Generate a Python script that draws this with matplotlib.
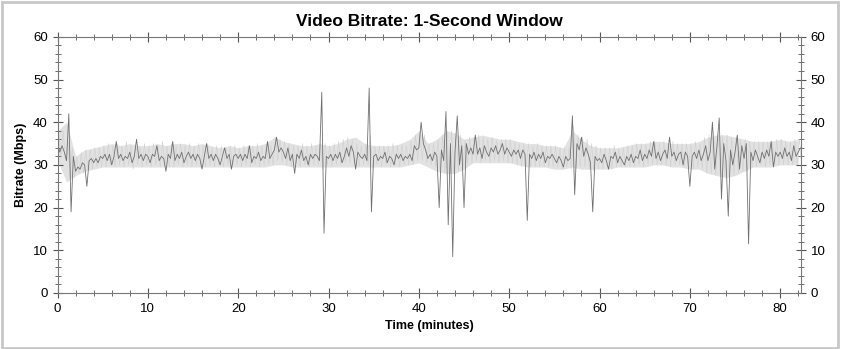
import numpy as np
import matplotlib
matplotlib.use('Agg')
import matplotlib.pyplot as plt
from matplotlib.ticker import MultipleLocator
from matplotlib.patches import Rectangle

plt.rcParams['font.family'] = ['Liberation Sans', 'DejaVu Sans']

# 1-second window bitrate (Mbps), read every 0.25 minute
bitrate = [
    35, 33, 34.5, 33, 31, 42, 19, 32, 28.5, 29.5, 29, 30.5, 30, 25, 31, 31.5, 30.5, 31.5, 30.5, 32,
    31.5, 32.5, 31, 32.5, 30, 32, 35.5, 31.5, 32.5, 31, 32, 31.5, 33, 30.5, 32, 36, 31.5, 32.5, 31, 32.5,
    32, 30.5, 32.5, 32, 34.5, 31, 32, 31.5, 28.5, 32.5, 31.5, 35.5, 31, 32.5, 31.5, 33, 30.5, 32, 33, 31.5,
    32.5, 31, 32.5, 31.5, 29, 32, 35, 31.5, 32.5, 31, 32.5, 31.5, 30, 32, 34, 31.5, 32.5, 29, 32, 32.5,
    31.5, 32.5, 31, 32.5, 31.5, 34.5, 30.5, 32, 31.5, 33, 31, 32, 31.5, 35.5, 31.5, 32.5, 33.5, 36.5, 33, 34,
    33, 31.5, 34, 31, 32.5, 28, 32.5, 31.5, 33.5, 31, 32, 30, 32.5, 31.5, 32.5, 32, 31, 47, 14, 32,
    31.5, 32.5, 31, 32.5, 31.5, 33, 30.5, 32, 34, 32, 34.5, 33, 29, 33, 32, 31.5, 32.5, 31, 48, 19,
    32, 32.5, 31, 32, 31.5, 33, 30.5, 32, 31.5, 30, 32.5, 31.5, 32.5, 31, 32, 31.5, 32.5, 31, 34.5, 33.5,
    34, 40, 35, 33.5, 31.5, 32.5, 31, 33, 32, 20, 33.5, 31, 42.5, 16, 35, 8.5, 33, 41.5, 30, 34.5,
    20, 35, 32.5, 34, 32.5, 37, 32.5, 34, 31.5, 34.5, 33, 32, 34, 33, 34.5, 32.5, 33.5, 35, 32.5, 34,
    33, 32, 33.5, 32.5, 33.5, 31.5, 33.5, 32.5, 17, 32.5, 31.5, 33, 31, 32.5, 31.5, 33, 30.5, 32, 31.5, 32.5,
    31.5, 30.5, 32, 31, 29.5, 32, 31, 31.5, 41.5, 23, 35, 33.5, 36.5, 32, 34, 32.5, 30.5, 19, 32, 31,
    31.5, 30.5, 32.5, 31, 29, 32, 31.5, 33, 30.5, 32, 31, 30, 32, 31, 32.5, 30.5, 32, 31.5, 33.5, 31,
    32.5, 31.5, 33.5, 32, 35.5, 31.5, 33, 31, 32.5, 33.5, 31.5, 36.5, 32, 33, 31, 32.5, 33, 30, 33, 32,
    25, 32, 33, 31.5, 33.5, 31, 32.5, 34.5, 31, 33, 40, 29, 34.5, 41, 22, 35, 31, 18, 33.5, 30,
    33, 37, 29, 34.5, 31.5, 35, 11.5, 33, 31, 33.5, 32, 30.5, 33, 31.5, 33.5, 32, 35.5, 29.5, 33, 32,
    33, 31.5, 34, 32, 33, 31, 34.5, 32, 33, 34,
]
minutes = np.arange(len(bitrate)) * 0.25

# light grey raw samples, read between the dark points
raw = [
    37, 32, 38, 31, 36, 27, 34, 27, 32, 28, 33, 28, 33.5, 29, 33.5, 29, 34, 29.5, 34, 29.5,
    34.5, 29.5, 35, 30, 34.5, 29.5, 35, 30, 34.5, 29.5, 35.5, 30, 34.5, 29, 35, 30, 34.5, 29.5, 35, 30,
    34.5, 29.5, 35, 30, 34.5, 29.5, 35.5, 30, 34.5, 29.5, 35, 29.5, 34.5, 30, 35, 29.5, 34.5, 30, 35, 29.5,
    34.5, 30, 35, 29.5, 34.5, 29.5, 35, 30, 34, 29.5, 34.5, 30, 34.5, 29.5, 34, 30, 34.5, 29.5, 34.5, 30,
    34, 29.5, 34.5, 30, 34.5, 29.5, 34.5, 30, 35, 29.5, 34.5, 30, 35, 30, 34.5, 30, 36.5, 31, 36, 30.5,
    35.5, 30, 35, 29.5, 34.5, 30, 34.5, 29.5, 35, 30, 34.5, 29.5, 35, 30, 34.5, 30, 35, 29, 35, 30,
    34.5, 29.5, 35, 30, 35.5, 30, 36, 30.5, 36.5, 30.5, 36, 30, 35, 29.5, 34.5, 30, 35, 30, 37, 29,
    34.5, 30, 34.5, 29.5, 34.5, 30, 34.5, 29.5, 35, 30, 34.5, 29.5, 35, 30, 34.5, 30, 35.5, 30, 37, 31,
    38, 31, 37, 30.5, 35, 30, 35, 29.5, 36, 28, 37, 28, 38, 27.5, 38, 28, 37.5, 28.5, 37, 29,
    36, 30, 36.5, 30.5, 36.5, 31, 37, 30.5, 36.5, 31, 36, 30.5, 36.5, 31, 36, 30.5, 36, 31, 36, 30.5,
    36, 30.5, 35.5, 30, 35, 29.5, 35, 29.5, 35, 29.5, 34.5, 29.5, 35, 29.5, 34.5, 29.5, 34.5, 29.5, 34.5, 29.5,
    34.5, 29.5, 34, 29, 34, 29.5, 34, 29, 39, 29, 37, 29.5, 36.5, 29.5, 36, 29, 35, 28.5, 34.5, 29,
    34, 29, 34, 29.5, 34, 29, 34.5, 29.5, 34, 29.5, 34, 29.5, 34.5, 29.5, 34.5, 29.5, 35, 30, 35, 29.5,
    35, 30, 35.5, 30, 35.5, 30, 35, 30, 35.5, 30, 35, 29.5, 35.5, 30, 35, 30, 35, 29.5, 35, 30,
    35, 29, 35.5, 29.5, 35, 29, 36.5, 28, 37, 28, 38, 27.5, 37.5, 27, 37, 27.5, 37, 27, 36.5, 27.5,
    36.5, 28, 36, 28.5, 36, 28.5, 35.5, 29.5, 35.5, 29.5, 35.5, 30, 35.5, 29.5, 35.5, 30, 35.5, 30, 36, 30,
    36, 30, 35.5, 30, 35.5, 30, 36, 30.5, 36, 30,
]
raw_minutes = np.arange(len(raw)) * 0.25 + 0.125

# spread of the raw samples, one value per minute
band_hi = [38, 40, 32, 33.5, 34, 34.5, 35, 34.5, 35, 34.5, 34.5, 35, 34.5, 35, 35, 34.5, 35, 34.5, 34, 34.5,
           34, 34.5, 34.5, 35, 36.5, 35.5, 35, 34.5, 34.5, 35, 34.5, 35, 36, 36.5, 35, 34.5, 34.5, 34.5, 35, 36,
           38, 35, 36, 38, 37.5, 36, 36.5, 37, 36.5, 36, 36, 35.5, 35, 35, 34.5, 34.5, 34, 38, 36, 34.5,
           34, 34, 34, 34.5, 35, 35, 35.5, 35.5, 35, 35, 35, 35.5, 36.5, 37, 37, 36.5, 36, 35.5, 35.5, 35.5,
           36, 35.5, 36]
band_lo = [31, 26, 27.5, 28.5, 29, 29.5, 29.5, 29.5, 29.5, 29.5, 29.5, 29.5, 29.5, 29.5, 29.5, 29.5, 29.5, 29.5, 29.5, 29.5,
           29.5, 29.5, 29.5, 29.5, 30, 30, 29.5, 29.5, 29.5, 29.5, 29.5, 29.5, 29.5, 29.5, 29.5, 29.5, 29.5, 29.5, 29.5, 30,
           30.5, 29.5, 28.5, 28, 28, 29, 30.5, 30.5, 30.5, 30.5, 30.5, 30, 29.5, 29.5, 29.5, 29, 29, 29.5, 29, 29,
           29, 29, 29.5, 29.5, 29.5, 29.5, 30, 30, 29.5, 29.5, 29, 29, 28, 27.5, 27, 27.5, 28.5, 29.5, 29.5, 29.5,
           30, 30, 30]
band_t = np.arange(len(band_hi))

fig = plt.figure(figsize=(8.41, 3.49), dpi=100)
ax = fig.add_axes([0.0684, 0.1605, 0.884, 0.734])

ax.fill_between(band_t, band_lo, band_hi, color='#e2e2e2', lw=0)
ax.plot(raw_minutes, raw, color='#d0d0d0', lw=0.4)
ax.plot(minutes, bitrate, color='#707070', lw=0.6)

ax.set_xlim(0, 82.3)
ax.set_ylim(0, 60)
ax.xaxis.set_major_locator(MultipleLocator(10))
ax.xaxis.set_minor_locator(MultipleLocator(2))
ax.yaxis.set_major_locator(MultipleLocator(10))
ax.yaxis.set_minor_locator(MultipleLocator(2))
ax.tick_params(which='both', direction='inout', colors='#555555', labelcolor='black',
               top=True, right=True, labelright=True, labelsize=9.5)
ax.tick_params(which='major', length=7)
ax.tick_params(which='minor', length=4)
for s in ax.spines.values():
    s.set_color('#777777')

ax.set_title('Video Bitrate: 1-Second Window', fontsize=12.5, fontweight='bold', pad=8)
ax.set_xlabel('Time (minutes)', fontsize=9, fontweight='bold')
ax.set_ylabel('Bitrate (Mbps)', fontsize=9, fontweight='bold')

fig.patches.append(Rectangle((0.002, 0.004), 0.994, 0.99, transform=fig.transFigure,
                             fill=False, edgecolor='#c8c8c8', lw=2))

fig.savefig('out.png', dpi=100)
